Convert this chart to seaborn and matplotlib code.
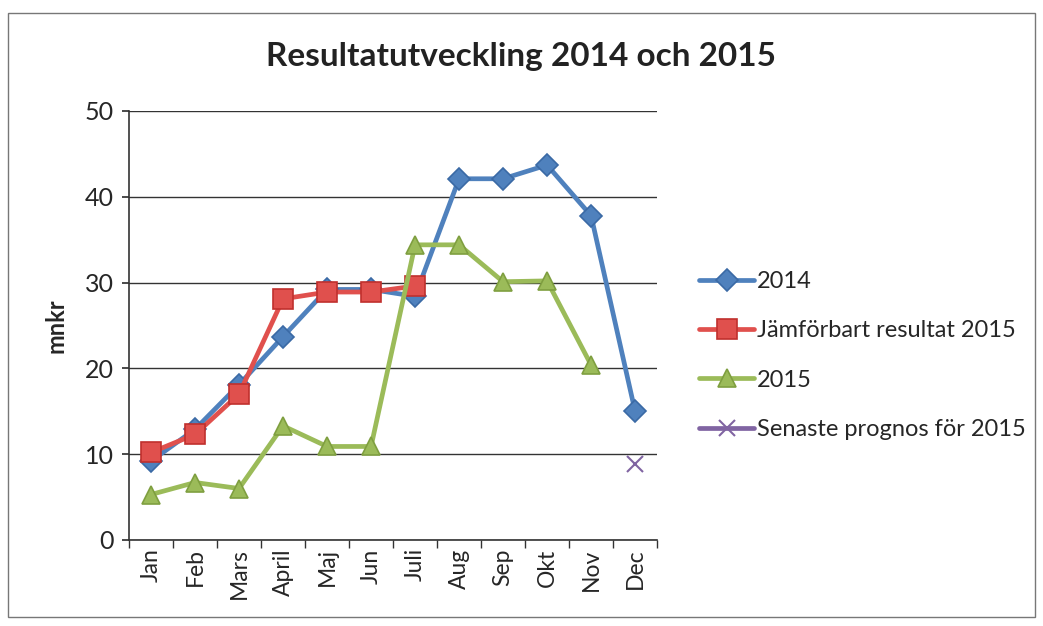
import numpy as np
import pandas as pd
import matplotlib
matplotlib.use("Agg")
import matplotlib.pyplot as plt
from matplotlib.patches import Rectangle
import seaborn as sns

# data (mnkr)
months = ["Jan", "Feb", "Mars", "April", "Maj", "Jun", "Juli",
          "Aug", "Sep", "Okt", "Nov", "Dec"]
res_2014 = [9.2, 12.9, 18.1, 23.7, 29.2, 29.2, 28.4, 42.1, 42.1, 43.7, 37.8, 15.0]
jamforbart_2015 = [10.2, 12.3, 17.0, 28.1, 28.9, 28.9, 29.6,
                   np.nan, np.nan, np.nan, np.nan, np.nan]
res_2015 = [5.3, 6.7, 6.0, 13.3, 10.9, 10.9, 34.4, 34.4, 30.1, 30.2, 20.4, np.nan]
prognos_2015 = [np.nan] * 11 + [8.9]

series = [
    ("2014", res_2014, "#4F81BD", "#3A6AA5", "D", 11),
    ("Jämförbart resultat 2015", jamforbart_2015, "#E0504D", "#C0302D", "s", 14),
    ("2015", res_2015, "#9BBB59", "#7F9F40", "^", 13),
    ("Senaste prognos för 2015", prognos_2015, "#8064A2", "#8064A2", "x", 12),
]

sns.set_theme(style="white")
plt.rcParams["font.family"] = ["Lato", "DejaVu Sans"]

fig = plt.figure(figsize=(10.43, 6.26), dpi=100)
ax = fig.add_axes([0.1237, 0.1374, 0.5063, 0.6853])

x = np.arange(len(months))
for name, vals, col, edge, mk, ms in series:
    df = pd.DataFrame({"x": x, "y": vals}).dropna()
    sns.lineplot(data=df, x="x", y="y", ax=ax, color=col, linewidth=3.4,
                 marker=mk, markersize=ms, markeredgecolor=edge if mk != "x" else col,
                 markeredgewidth=1.2 if mk != "x" else 1.5, label=name)

ax.set_xlim(-0.5, 11.5)
ax.set_ylim(0, 50)
ax.set_yticks([0, 10, 20, 30, 40, 50])
ax.set_xticks(x)
ax.set_xticklabels(months, rotation=90, fontsize=16.5)
ax.tick_params(axis="y", labelsize=18, length=5, direction="out", left=True,
               color="#333333", pad=6)
ax.tick_params(axis="x", length=0, pad=6)
ax.set_xticks(np.arange(-0.5, 12, 1), minor=True)
ax.tick_params(axis="x", which="minor", length=6, direction="out", bottom=True, color="#333333")
ax.yaxis.grid(True, color="#333333", linewidth=1.0)
ax.xaxis.grid(False)
for s in ["top", "right"]:
    ax.spines[s].set_visible(False)
for s in ["left", "bottom"]:
    ax.spines[s].set_color("#333333")
    ax.spines[s].set_linewidth(1.2)
ax.set_xlabel("")
ax.set_ylabel("mnkr", fontsize=17, fontweight="bold", labelpad=12)

fig.text(0.5, 0.91, "Resultatutveckling 2014 och 2015", ha="center", va="center",
         fontsize=24, fontweight="bold", color="#222222")

ax.legend(loc="center left", bbox_to_anchor=(1.04, 0.43), frameon=False,
          fontsize=17, handlelength=2.3, handletextpad=0.15, labelspacing=1.2)

fig.patches.append(Rectangle((0.008, 0.015), 0.984, 0.965, transform=fig.transFigure,
                             fill=False, edgecolor="#777777", linewidth=1.0))

fig.savefig("out.png", dpi=100)
